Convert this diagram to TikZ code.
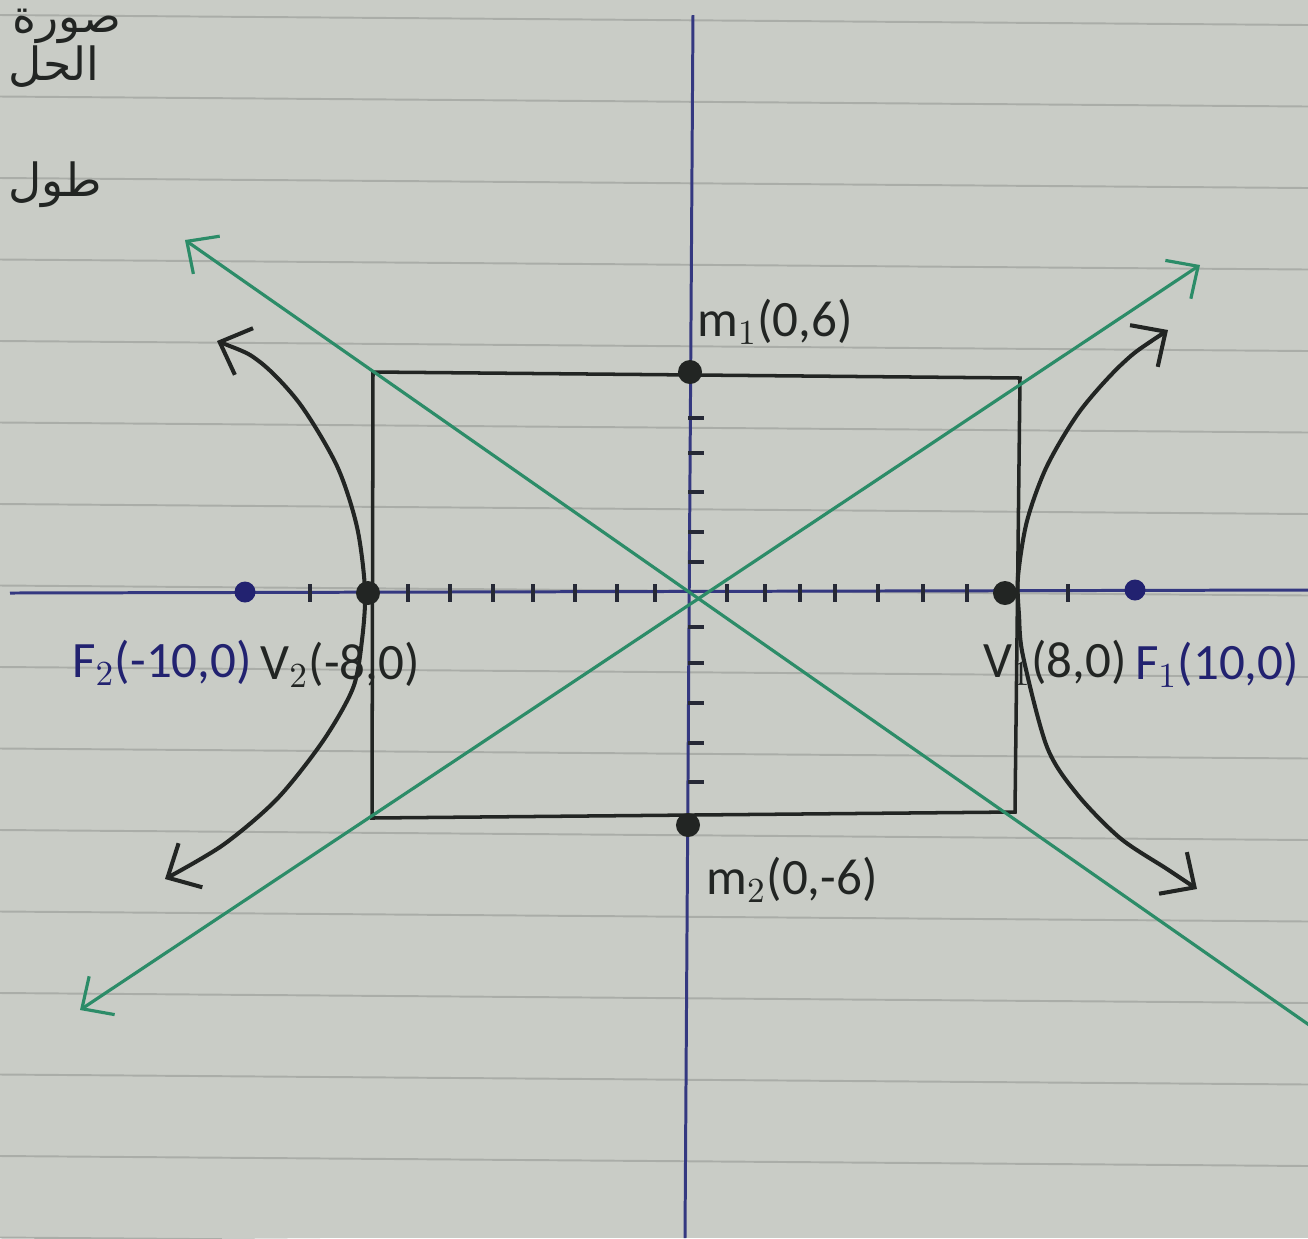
\documentclass[tikz,border=0pt]{standalone}
\usepackage{fontspec}
\setmainfont{Carlito}
\newfontfamily\arabicfont[Script=Arabic]{DejaVu Sans}
\TeXXeTstate=1
\usepackage{xcolor}
\usetikzlibrary{arrows.meta}

\definecolor{paper}{RGB}{201,204,198}
\definecolor{ruleline}{RGB}{170,173,168}
\definecolor{axisblue}{RGB}{52,56,128}
\definecolor{focusblue}{RGB}{34,34,112}
\definecolor{pen}{RGB}{34,37,35}
\definecolor{asymgreen}{RGB}{44,140,104}

\begin{document}
\begin{tikzpicture}[
    x=0.01cm, y=-0.01cm,
    ruled/.style={draw=ruleline, line width=0.55pt},
    axis/.style={draw=axisblue, line width=0.85pt},
    tick/.style={draw=pen!80!axisblue, line width=1.4pt},
    box/.style={draw=pen, line width=1pt},
    asym/.style={draw=asymgreen, line width=0.9pt,
        >={Straight Barb[length=0.24cm,width=0.46cm]}},
    branch/.style={draw=pen, line width=1.15pt,
        >={Straight Barb[length=0.26cm,width=0.5cm]}, <->},
    vdot/.style={circle, fill=pen, inner sep=0pt, minimum size=0.24cm},
    fdot/.style={circle, fill=focusblue, inner sep=0pt, minimum size=0.21cm},
    lbl/.style={font=\fontsize{14.5}{17}\selectfont, text=pen, inner sep=0pt},
    flbl/.style={lbl, text=focusblue},
    arab/.style={font=\arabicfont\fontsize{13}{16}\selectfont, text=pen, inner sep=0pt}
]
\useasboundingbox (0,0) rectangle (1308,1238);
\fill[paper] (0,0) rectangle (1308,1238);

% ruled paper
\foreach \k in {0,...,15}
    \draw[ruled] (0,15+81.5*\k) -- (1308,25+81.5*\k);

% handwriting at the margin
\node[arab, anchor=north west] (word1) at (12,8) {\beginR صورة\endR};
\node[arab, anchor=base west] (word2) at (8,80) {\beginR الحل\endR};
\node[arab, anchor=base west] (word3) at (8,196) {\beginR طول\endR};

% axes
\coordinate (xl) at (10,593);
\coordinate (xr) at (1308,590);
\coordinate (yt) at (693,15);
\coordinate (yb) at (685,1238);
\draw[axis] (xl) -- (xr);
\draw[axis] (yt) -- (yb);

\foreach \t in {310,408,450,493,533,575,617,655,727,765,800,835,878,923,967,1068}
    \draw[tick] (\t,584) -- (\t,602);
\foreach \t in {418,453,492,532,562,627,663,703,743,782}
    \draw[tick] (688,\t) -- (704,\t);

% box
\coordinate (tl) at (373,372);
\coordinate (tr) at (1020,378);
\coordinate (br) at (1015,812);
\coordinate (bl) at (372,818);
\draw[box] (tl) -- (tr) -- (br) -- (bl) -- cycle;

% asymptotes
\coordinate (ua) at (185,240);
\coordinate (ub) at (1345,1050);
\coordinate (la) at (80,1010);
\coordinate (lb) at (1200,265);
\draw[asym, <-] (ua) -- (ub);
\draw[asym, <->] (la) -- (lb);

% hyperbola
\draw[branch] plot[smooth] coordinates {(1168,330) (1123,363) (1080,411) (1047,466)
    (1027,521) (1018,577) (1019,615) (1023,656) (1047,747) (1077,794) (1120,838)
    (1167,869) (1197,889)};
\draw[branch] plot[smooth] coordinates {(217,341) (260,362) (300,404) (337,466)
    (357,527) (365,590) (362,640) (353,688) (323,741) (277,799) (223,845) (165,879)};

% points
\node[vdot] (v2) at (368,593) {};
\node[vdot] (v1) at (1005,593) {};
\node[vdot] (m1) at (690,372) {};
\node[vdot] (m2) at (688,825) {};
\node[fdot] (f2) at (245,592) {};
\node[fdot] (f1) at (1135,590) {};

\node[lbl] (m1lbl) at (775,322) {m$_1$(0,6)};
\node[lbl] (m2lbl) at (792,880) {m$_2$(0,-6)};
\node[flbl] (f2lbl) at (162,663) {F$_2$(-10,0)};
\node[lbl] (v2lbl) at (340,665) {V$_2$(-8,0)};
\node[lbl] (v1lbl) at (1055,663) {V$_1$(8,0)};
\node[flbl] (f1lbl) at (1217,665) {F$_1$(10,0)};

\end{tikzpicture}
\end{document}
